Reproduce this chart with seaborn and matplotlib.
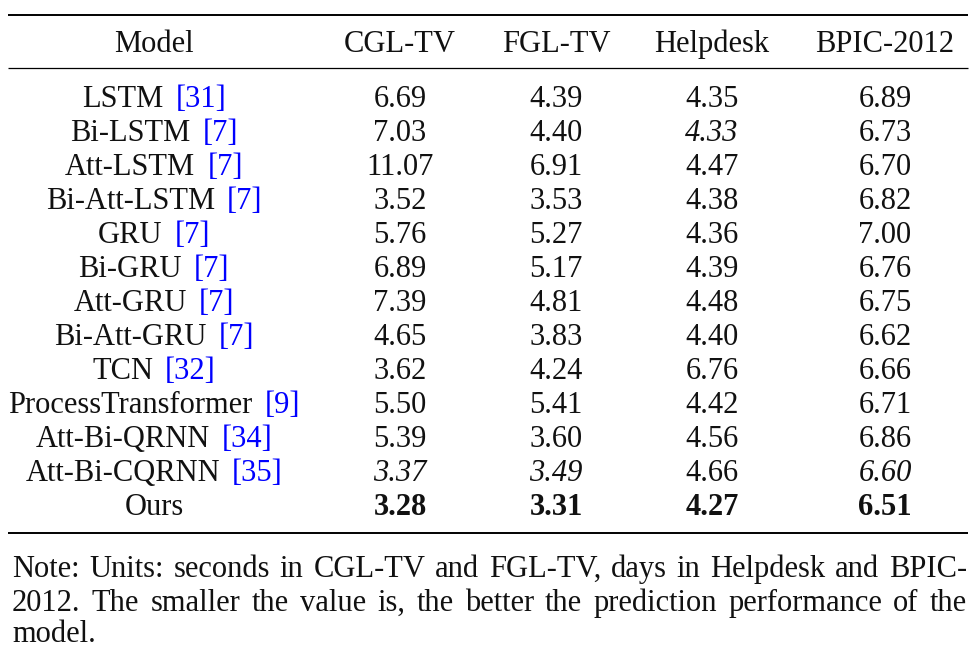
import matplotlib
matplotlib.use("Agg")
import matplotlib.pyplot as plt
import seaborn as sns
import numpy as np

sns.set_theme(style="white")
plt.rcParams['font.family'] = ['Liberation Serif', 'DejaVu Serif']

# ---- data ----
columns = ["Model", "CGL-TV", "FGL-TV", "Helpdesk", "BPIC-2012"]
models = ["LSTM", "Bi-LSTM", "Att-LSTM", "Bi-Att-LSTM", "GRU", "Bi-GRU", "Att-GRU",
          "Bi-Att-GRU", "TCN", "ProcessTransformer", "Att-Bi-QRNN", "Att-Bi-CQRNN", "Ours"]
cites = ["[31]", "[7]", "[7]", "[7]", "[7]", "[7]", "[7]", "[7]", "[32]", "[9]", "[34]", "[35]", ""]
cgl_tv = [6.69, 7.03, 11.07, 3.52, 5.76, 6.89, 7.39, 4.65, 3.62, 5.50, 5.39, 3.37, 3.28]
fgl_tv = [4.39, 4.40, 6.91, 3.53, 5.27, 5.17, 4.81, 3.83, 4.24, 5.41, 3.60, 3.49, 3.31]
helpdesk = [4.35, 4.33, 4.47, 4.38, 4.36, 4.39, 4.48, 4.40, 6.76, 4.42, 4.56, 4.66, 4.27]
bpic2012 = [6.89, 6.73, 6.70, 6.82, 7.00, 6.76, 6.75, 6.62, 6.66, 6.71, 6.86, 6.60, 6.51]
note_lines = [
    "Note: Units: seconds in CGL-TV and FGL-TV, days in Helpdesk and BPIC-",
    "2012. The smaller the value is, the better the prediction performance of the",
    "model.",
]

# ---- layout ----
W, H = 980, 649
fig = plt.figure(figsize=(W / 100, H / 100), dpi=100)
ax = fig.add_axes([0, 0, 1, 1])
ax.set_xlim(0, W)
ax.set_ylim(H, 0)
ax.axis("off")
sns.despine(ax=ax, left=True, bottom=True)

FS = 22
TXT = "#111111"
col_x = [154, 400, 556, 712, 885]
header_base = 52
row0_base = 107
row_h = 34.0
rule_x0, rule_x1 = 8, 968
cite_gap = 12

fig.canvas.draw()
renderer = fig.canvas.get_renderer()

def text_width(s, **kw):
    t = ax.text(0, 0, s, fontsize=FS, **kw)
    w = t.get_window_extent(renderer=renderer).width
    t.remove()
    return w

# rules
ax.plot([rule_x0, rule_x1], [15, 15], color="black", lw=1.4, solid_capstyle="butt")
ax.plot([rule_x0, rule_x1], [68, 68], color="black", lw=0.9, solid_capstyle="butt")
ax.plot([rule_x0, rule_x1], [533, 533], color="black", lw=1.4, solid_capstyle="butt")

# header
for x, c in zip(col_x, columns):
    ax.text(x, header_base, c, fontsize=FS, ha="center", va="baseline", color=TXT)

series = [cgl_tv, fgl_tv, helpdesk, bpic2012]
for i, (m, ct) in enumerate(zip(models, cites)):
    y = row0_base + i * row_h
    if ct:
        w1 = text_width(m)
        w2 = text_width(ct)
        left = col_x[0] - (w1 + cite_gap + w2) / 2
        ax.text(left, y, m, fontsize=FS, ha="left", va="baseline", color=TXT)
        ax.text(left + w1 + cite_gap, y, ct, fontsize=FS, ha="left", va="baseline",
                color="#0000ff")
    else:
        ax.text(col_x[0], y, m, fontsize=FS, ha="center", va="baseline", color=TXT)

for j, vals in enumerate(series):
    order = np.argsort(vals)
    best, second = order[0], order[1]
    for i, v in enumerate(vals):
        y = row0_base + i * row_h
        kw = {}
        if i == best:
            kw["fontweight"] = "bold"
        elif i == second:
            kw["fontstyle"] = "italic"
        ax.text(col_x[j + 1], y, f"{v:.2f}", fontsize=FS, ha="center", va="baseline",
                color=TXT, **kw)

# note (justified)
note_x0, note_x1 = 12, 967
note_base = [577, 611, 642]
for k, line in enumerate(note_lines):
    words = line.split(" ")
    y = note_base[k]
    if k == len(note_lines) - 1:
        ax.text(note_x0, y, line, fontsize=FS, ha="left", va="baseline", color=TXT)
        continue
    widths = [text_width(wd) for wd in words]
    gap = (note_x1 - note_x0 - sum(widths)) / (len(words) - 1)
    x = note_x0
    for wd, w in zip(words, widths):
        ax.text(x, y, wd, fontsize=FS, ha="left", va="baseline", color=TXT)
        x += w + gap

fig.savefig("out.png", dpi=100, facecolor="white")
